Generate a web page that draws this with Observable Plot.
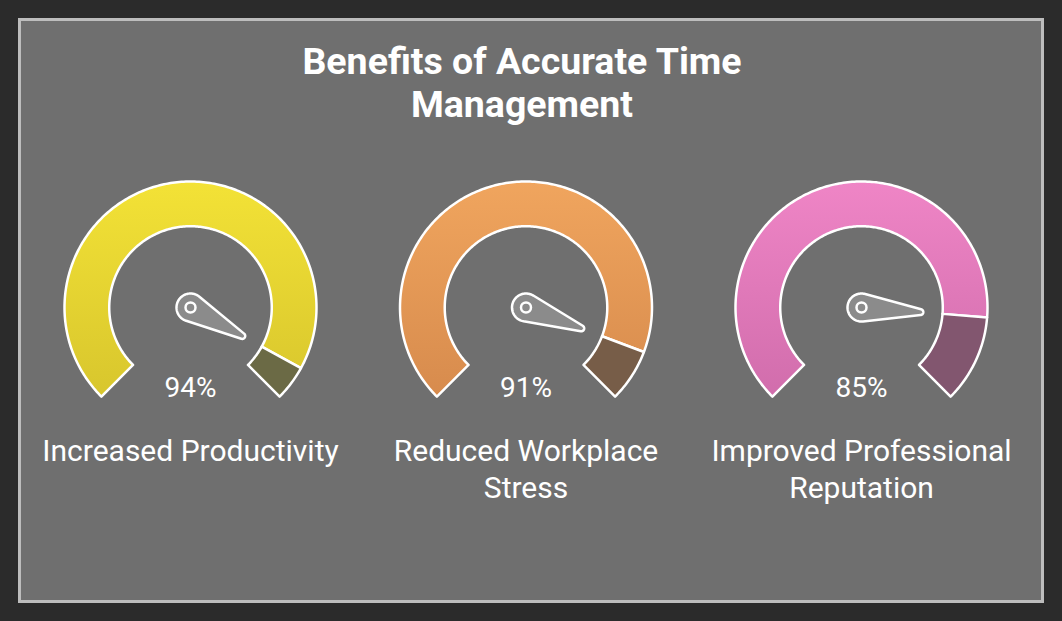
<!DOCTYPE html>
<html>
<head>
<meta charset="utf-8">
<script src="https://cdn.jsdelivr.net/npm/d3@7"></script>
<script src="https://cdn.jsdelivr.net/npm/@observablehq/plot@0.6"></script>
<style>
  html, body { margin: 0; padding: 0; background: #2b2b2b; }
  #wrap { position: relative; width: 1062px; height: 621px; background: #2b2b2b; overflow: hidden; font-family: Roboto, "Noto Sans", sans-serif; }
  #panel { position: absolute; left: 18px; top: 18px; width: 1020px; height: 579px; background: #6f6f6f; border: 3px solid #bdbdbd; }
  #title { position: absolute; left: 222px; width: 600px; top: 40px; text-align: center; color: #ffffff; font-weight: 700; font-size: 37.5px; line-height: 43px; }
  #chart { position: absolute; left: 0; top: 150px; }
</style>
</head>
<body>
<div id="wrap">
  <div id="panel"></div>
  <div id="title">Benefits of Accurate Time<br>Management</div>
  <div id="chart"></div>
</div>
<script>
// ---- data ----
const categories = ["Increased Productivity", "Reduced Workplace\nStress", "Improved Professional\nReputation"];
const values = [94, 91, 85];
const valueLabels = ["94%", "91%", "85%"];

// ---- styles ----
const topColors = ["#f3e236", "#f0a55e", "#ef85c6"];
const bottomColors = ["#d8c62d", "#d78b4d", "#d16dac"];
const restColors = ["#6b6a45", "#775d48", "#82566f"];

// ---- geometry (in gauge units, outer radius = 1) ----
const PX = 126;               // pixels per unit
const spacing = 335.5 / PX;   // gauge spacing
const innerR = 0.645, outerR = 1;
const startA = -135, endA = 135; // degrees clockwise from top
const W = 1062, H = 380;
const cx0px = 190, cypx = 157;
const xDomain = [-cx0px / PX, (W - cx0px) / PX];
const yDomain = [-(H - cypx) / PX, cypx / PX];

const rad = d => d * Math.PI / 180;
function arcPoly(cx, a0, a1) {
  const pts = [];
  const n = Math.max(2, Math.ceil(Math.abs(a1 - a0)));
  for (let i = 0; i <= n; i++) {
    const a = rad(a0 + (a1 - a0) * i / n);
    pts.push({x: cx + outerR * Math.sin(a), y: outerR * Math.cos(a)});
  }
  for (let i = n; i >= 0; i--) {
    const a = rad(a0 + (a1 - a0) * i / n);
    pts.push({x: cx + innerR * Math.sin(a), y: innerR * Math.cos(a)});
  }
  pts.push(pts[0]);
  return pts;
}
function needlePoly(cx, angDeg) {
  const R = 14 / PX, r = 3 / PX, L = 59 / PX;
  const a = rad(angDeg);
  const beta = Math.atan2(Math.cos(a), Math.sin(a)); // math angle of direction
  const tx = cx + L * Math.cos(beta), ty = L * Math.sin(beta);
  const phi = Math.acos((R - r) / L);
  const pts = [];
  for (let i = 0; i <= 20; i++) {
    const t = -phi + 2 * phi * i / 20;
    pts.push({x: tx + r * Math.cos(beta + t), y: ty + r * Math.sin(beta + t)});
  }
  for (let i = 0; i <= 60; i++) {
    const t = phi + (2 * Math.PI - 2 * phi) * i / 60;
    pts.push({x: cx + R * Math.cos(beta + t), y: R * Math.sin(beta + t)});
  }
  pts.push(pts[0]);
  return pts;
}

const gauges = categories.map((c, i) => ({
  name: c, value: values[i], label: valueLabels[i], cx: i * spacing,
  angle: startA + (endA - startA) * values[i] / 100
}));

const pctY = (cypx - 238) / PX;
const labelY = (cypx - 284) / PX;

const marks = [];
gauges.forEach((g, i) => {
  marks.push(Plot.line(arcPoly(g.cx, startA, g.angle), {x: "x", y: "y", fill: `url(#grad${i})`, stroke: "white", strokeWidth: 2.5}));
  marks.push(Plot.line(arcPoly(g.cx, g.angle, endA), {x: "x", y: "y", fill: restColors[i], stroke: "white", strokeWidth: 2.5}));
  marks.push(Plot.line(needlePoly(g.cx, g.angle), {x: "x", y: "y", fill: "#8b8b8b", stroke: "white", strokeWidth: 2.5, strokeLinejoin: "round"}));
});
marks.push(Plot.dot(gauges, {x: "cx", y: () => 0, r: 5, fill: "none", stroke: "white", strokeWidth: 2.5}));
marks.push(Plot.text(gauges, {x: "cx", y: () => pctY, text: "label", fill: "white", fontSize: 28, fontFamily: "Roboto"}));
marks.push(Plot.text(gauges, {x: "cx", y: () => labelY, text: "name", fill: "white", fontSize: 30, fontFamily: "Roboto", lineAnchor: "top", lineHeight: 1.23}));

const svg = Plot.plot({
  width: W, height: H, margin: 0,
  x: {domain: xDomain, axis: null},
  y: {domain: yDomain, axis: null},
  style: {background: "transparent", overflow: "visible"},
  marks
});

const defs = d3.select(svg).insert("defs", ":first-child");
gauges.forEach((g, i) => {
  const lg = defs.append("linearGradient").attr("id", `grad${i}`).attr("x1", 0).attr("y1", 0).attr("x2", 0).attr("y2", 1);
  lg.append("stop").attr("offset", "0%").attr("stop-color", topColors[i]);
  lg.append("stop").attr("offset", "100%").attr("stop-color", bottomColors[i]);
});

document.getElementById("chart").appendChild(svg);
</script>
</body>
</html>
